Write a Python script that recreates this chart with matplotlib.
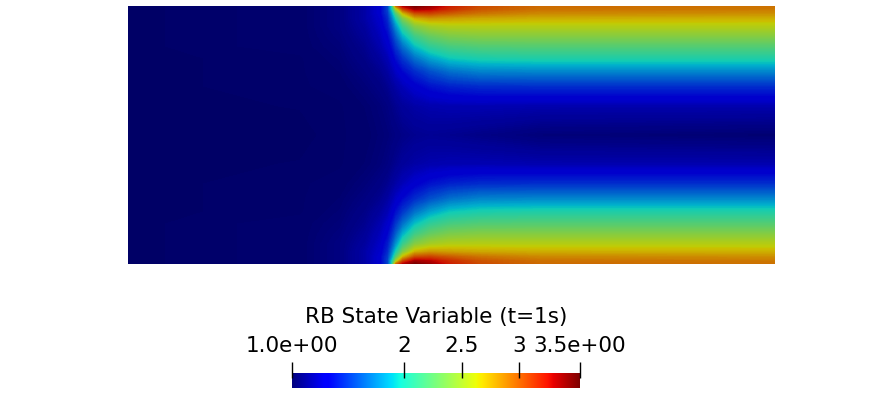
import numpy as np
import matplotlib
matplotlib.use("Agg")
import matplotlib.pyplot as plt
from matplotlib.colors import LinearSegmentedColormap

W, H = 874, 393
VMIN, VMAX = 1.026, 3.53
TITLE = "RB State Variable (t=1s)"
TICK_VALUES = [VMIN, 2, 2.5, 3, VMAX]
TICK_LABELS = ["1.0e+00", "2", "2.5", "3", "3.5e+00"]

# field samples: columns = image x (px), rows = distance from wall (px)
X_PX = [128, 300, 340, 365, 380, 388, 392, 396, 403, 415, 430, 450, 480, 540, 775]
D_PX = [0, 3, 7, 12, 20, 30, 40, 52, 65, 80, 100, 129]
FIELD = [
    [1.03, 1.05, 1.10, 1.20, 1.32, 1.55, 2.00, 2.90, 3.30, 3.47, 3.38, 3.20, 3.05, 2.95, 2.93],
    [1.03, 1.05, 1.10, 1.20, 1.32, 1.55, 1.95, 2.50, 3.05, 3.35, 3.30, 3.15, 3.02, 2.93, 2.90],
    [1.03, 1.05, 1.10, 1.20, 1.32, 1.52, 1.80, 2.20, 2.70, 3.05, 3.08, 3.00, 2.92, 2.85, 2.83],
    [1.03, 1.05, 1.10, 1.20, 1.30, 1.47, 1.70, 1.98, 2.38, 2.72, 2.80, 2.78, 2.75, 2.73, 2.72],
    [1.03, 1.05, 1.10, 1.18, 1.28, 1.42, 1.58, 1.78, 2.10, 2.40, 2.52, 2.57, 2.58, 2.58, 2.58],
    [1.03, 1.05, 1.09, 1.16, 1.25, 1.35, 1.47, 1.62, 1.87, 2.13, 2.28, 2.37, 2.40, 2.40, 2.40],
    [1.03, 1.05, 1.08, 1.14, 1.22, 1.30, 1.38, 1.50, 1.68, 1.92, 2.08, 2.17, 2.21, 2.22, 2.22],
    [1.03, 1.04, 1.07, 1.12, 1.18, 1.24, 1.30, 1.38, 1.50, 1.68, 1.83, 1.95, 2.00, 2.02, 2.02],
    [1.03, 1.04, 1.06, 1.10, 1.14, 1.19, 1.23, 1.28, 1.36, 1.47, 1.58, 1.68, 1.74, 1.75, 1.75],
    [1.03, 1.04, 1.05, 1.08, 1.11, 1.14, 1.17, 1.20, 1.25, 1.32, 1.39, 1.44, 1.47, 1.48, 1.48],
    [1.03, 1.035, 1.04, 1.06, 1.08, 1.10, 1.12, 1.14, 1.17, 1.20, 1.22, 1.23, 1.23, 1.22, 1.22],
    [1.03, 1.03, 1.04, 1.05, 1.07, 1.08, 1.09, 1.10, 1.12, 1.14, 1.15, 1.14, 1.12, 1.08, 1.06],
]

plt.rcParams["font.family"] = ["DejaVu Sans"]


def axes_px(fig, left, top, right, bottom):
    return fig.add_axes([left / W, 1 - bottom / H, (right - left) / W, (bottom - top) / H])


fig = plt.figure(figsize=(W / 100, H / 100), dpi=100, facecolor="white")

# surface: the lit render dims the jet colours
jet = matplotlib.colormaps["jet"]
dim = 0.8
surface_cmap = LinearSegmentedColormap.from_list(
    "dimjet", [tuple(dim * c for c in jet(i / 255)[:3]) for i in range(256)], N=256
)

ax = axes_px(fig, 128, 6, 775, 264)
half = np.array(FIELD)
top_y = 6 + np.array(D_PX, float)
bot_y = 264 - np.array(D_PX, float)
ys = np.concatenate([top_y, bot_y[-2::-1]])
Z = np.vstack([half, half[-2::-1]])
levels = np.linspace(VMIN, VMAX, 300)
ax.contourf(X_PX, ys, Z, levels=levels, cmap=surface_cmap, antialiased=False, extend="both")
ax.set_xlim(128, 775)
ax.set_ylim(264, 6)
ax.axis("off")

# colour bar
cax = axes_px(fig, 292, 373, 580, 388)
grad = np.linspace(VMIN, VMAX, 512)[None, :]
cax.imshow(grad, extent=[VMIN, VMAX, 0, 1], aspect="auto", cmap="jet", vmin=VMIN, vmax=VMAX)
for s in cax.spines.values():
    s.set_visible(False)
cax.set_yticks([])
cax.xaxis.tick_top()
cax.set_xticks(TICK_VALUES, TICK_LABELS)
cax.tick_params(axis="x", length=0, pad=12, labelsize=15.5, colors="black")
cax.vlines(TICK_VALUES, 0.67, 1.75, transform=cax.get_xaxis_transform(),
           colors="black", linewidth=1.0, clip_on=False)
fig.text(436.5 / W, 1 - 317 / H, TITLE, ha="center", va="center", fontsize=15.5, color="black")

fig.savefig("out.png", dpi=100)
